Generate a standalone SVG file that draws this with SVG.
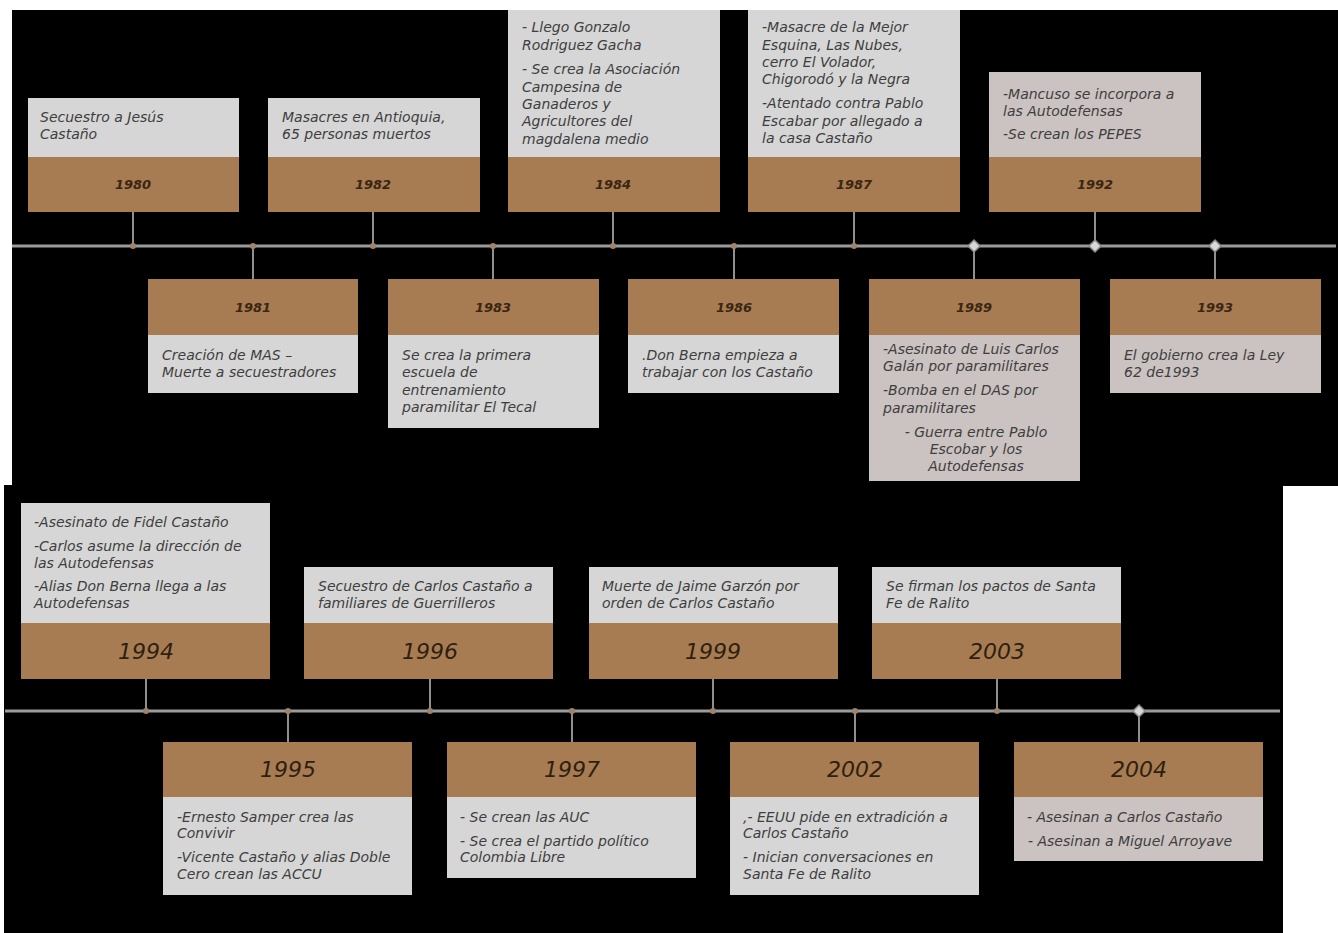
<svg xmlns="http://www.w3.org/2000/svg" width="1338" height="933" viewBox="0 0 1338 933">
<style>
.bg{fill:#000}
.g{fill:#d6d6d6}
.p{fill:#cbc3c2}
.b{fill:#a87c52}
.t{font-family:"DejaVu Sans","Liberation Sans",sans-serif;font-size:14px;font-style:italic;fill:#3e3e3e}
.y1{font-family:"DejaVu Sans","Liberation Sans",sans-serif;font-size:13px;font-style:italic;font-weight:bold;fill:#3a2612;text-anchor:middle}
.y2{font-family:"DejaVu Sans","Liberation Sans",sans-serif;font-size:22px;font-style:italic;fill:#2e1f10;text-anchor:middle}
.ax{stroke:#9b9b9b;stroke-width:3;fill:none}
.cn{stroke:#8f8f8f;stroke-width:2;fill:none}
.dot{fill:#a0836a}
.dm{fill:#d8d8d8;stroke:#8a8a8a;stroke-width:1.5}
.c{text-anchor:middle}
</style>
<rect x="0" y="0" width="1338" height="933" fill="#fff"/>
<rect class="bg" x="12" y="10" width="1326" height="476"/>
<rect class="bg" x="4" y="485" width="1279" height="448"/>

<g id="connectors">
<line class="ax" x1="12" y1="246" x2="1336" y2="246"/>
<line class="cn" x1="133" y1="212" x2="133" y2="246"/>
<line class="cn" x1="373" y1="212" x2="373" y2="246"/>
<line class="cn" x1="613" y1="212" x2="613" y2="246"/>
<line class="cn" x1="854" y1="212" x2="854" y2="246"/>
<line class="cn" x1="1095" y1="212" x2="1095" y2="246"/>
<line class="cn" x1="253" y1="246" x2="253" y2="279"/>
<line class="cn" x1="493" y1="246" x2="493" y2="279"/>
<line class="cn" x1="734" y1="246" x2="734" y2="279"/>
<line class="cn" x1="974" y1="246" x2="974" y2="279"/>
<line class="cn" x1="1215" y1="246" x2="1215" y2="279"/>
<circle class="dot" cx="133" cy="246" r="3"/>
<circle class="dot" cx="253" cy="246" r="3"/>
<circle class="dot" cx="373" cy="246" r="3"/>
<circle class="dot" cx="493" cy="246" r="3"/>
<circle class="dot" cx="613" cy="246" r="3"/>
<circle class="dot" cx="734" cy="246" r="3"/>
<circle class="dot" cx="854" cy="246" r="3"/>
<path class="dm" d="M974 240 L980 246 L974 252 L968 246 Z"/>
<path class="dm" d="M1095 240 L1101 246 L1095 252 L1089 246 Z"/>
<path class="dm" d="M1215 240 L1221 246 L1215 252 L1209 246 Z"/>

<line class="ax" x1="5" y1="711" x2="1280" y2="711"/>
<line class="cn" x1="146" y1="679" x2="146" y2="711"/>
<line class="cn" x1="430" y1="679" x2="430" y2="711"/>
<line class="cn" x1="713" y1="679" x2="713" y2="711"/>
<line class="cn" x1="997" y1="679" x2="997" y2="711"/>
<line class="cn" x1="288" y1="711" x2="288" y2="742"/>
<line class="cn" x1="572" y1="711" x2="572" y2="742"/>
<line class="cn" x1="855" y1="711" x2="855" y2="742"/>
<line class="cn" x1="1139" y1="711" x2="1139" y2="742"/>
<circle class="dot" cx="146" cy="711" r="3"/>
<circle class="dot" cx="288" cy="711" r="3"/>
<circle class="dot" cx="430" cy="711" r="3"/>
<circle class="dot" cx="572" cy="711" r="3"/>
<circle class="dot" cx="713" cy="711" r="3"/>
<circle class="dot" cx="855" cy="711" r="3"/>
<circle class="dot" cx="997" cy="711" r="3"/>
<path class="dm" d="M1139 705 L1145 711 L1139 717 L1133 711 Z"/>
</g>

<g id="n1980">
<rect class="g" x="28" y="98" width="211" height="59"/>
<rect class="b" x="28" y="157" width="211" height="55"/>
<text class="t" x="40" y="122">Secuestro a Jesús</text>
<text class="t" x="40" y="139">Castaño</text>
<text class="y1" x="133" y="189">1980</text>
</g>
<g id="n1982">
<rect class="g" x="268" y="98" width="212" height="59"/>
<rect class="b" x="268" y="157" width="212" height="55"/>
<text class="t" x="282" y="122">Masacres en Antioquia,</text>
<text class="t" x="282" y="139">65 personas muertos</text>
<text class="y1" x="373" y="189">1982</text>
</g>
<g id="n1984">
<rect class="g" x="508" y="10" width="212" height="147"/>
<rect class="b" x="508" y="157" width="212" height="55"/>
<text class="t" x="522" y="32">- Llego Gonzalo</text>
<text class="t" x="522" y="50">Rodriguez Gacha</text>
<text class="t" x="522" y="74">- Se crea la Asociación</text>
<text class="t" x="522" y="92">Campesina de</text>
<text class="t" x="522" y="109">Ganaderos y</text>
<text class="t" x="522" y="126">Agricultores del</text>
<text class="t" x="522" y="144">magdalena medio</text>
<text class="y1" x="613" y="189">1984</text>
</g>
<g id="n1987">
<rect class="g" x="748" y="10" width="212" height="147"/>
<rect class="b" x="748" y="157" width="212" height="55"/>
<text class="t" x="762" y="32">-Masacre de la Mejor</text>
<text class="t" x="762" y="50">Esquina, Las Nubes,</text>
<text class="t" x="762" y="67">cerro El Volador,</text>
<text class="t" x="762" y="84">Chigorodó y la Negra</text>
<text class="t" x="762" y="108">-Atentado contra Pablo</text>
<text class="t" x="762" y="126">Escabar por allegado a</text>
<text class="t" x="762" y="143">la casa Castaño</text>
<text class="y1" x="854" y="189">1987</text>
</g>
<g id="n1992">
<rect class="p" x="989" y="72" width="212" height="85"/>
<rect class="b" x="989" y="157" width="212" height="55"/>
<text class="t" x="1003" y="99">-Mancuso se incorpora a</text>
<text class="t" x="1003" y="116">las Autodefensas</text>
<text class="t" x="1003" y="139">-Se crean los PEPES</text>
<text class="y1" x="1095" y="189">1992</text>
</g>

<g id="n1981">
<rect class="b" x="148" y="279" width="210" height="56"/>
<rect class="g" x="148" y="335" width="210" height="58"/>
<text class="y1" x="253" y="312">1981</text>
<text class="t" x="162" y="360">Creación de MAS –</text>
<text class="t" x="162" y="377">Muerte a secuestradores</text>
</g>
<g id="n1983">
<rect class="b" x="388" y="279" width="211" height="56"/>
<rect class="g" x="388" y="335" width="211" height="93"/>
<text class="y1" x="493" y="312">1983</text>
<text class="t" x="402" y="360">Se crea la primera</text>
<text class="t" x="402" y="377">escuela de</text>
<text class="t" x="402" y="395">entrenamiento</text>
<text class="t" x="402" y="412">paramilitar El Tecal</text>
</g>
<g id="n1986">
<rect class="b" x="628" y="279" width="211" height="56"/>
<rect class="g" x="628" y="335" width="211" height="58"/>
<text class="y1" x="734" y="312">1986</text>
<text class="t" x="642" y="360">.Don Berna empieza a</text>
<text class="t" x="642" y="377">trabajar con los Castaño</text>
</g>
<g id="n1989">
<rect class="b" x="869" y="279" width="211" height="56"/>
<rect class="p" x="869" y="335" width="211" height="146"/>
<text class="y1" x="974" y="312">1989</text>
<text class="t" x="883" y="354">-Asesinato de Luis Carlos</text>
<text class="t" x="883" y="371">Galán por paramilitares</text>
<text class="t" x="883" y="395">-Bomba en el DAS por</text>
<text class="t" x="883" y="413">paramilitares</text>
<text class="t c" x="976" y="437">- Guerra entre Pablo</text>
<text class="t c" x="976" y="454">Escobar y los</text>
<text class="t c" x="976" y="471">Autodefensas</text>
</g>
<g id="n1993">
<rect class="b" x="1110" y="279" width="211" height="56"/>
<rect class="p" x="1110" y="335" width="211" height="58"/>
<text class="y1" x="1215" y="312">1993</text>
<text class="t" x="1124" y="360">El gobierno crea la Ley</text>
<text class="t" x="1124" y="377">62 de1993</text>
</g>

<g id="n1994">
<rect class="g" x="21" y="503" width="249" height="120"/>
<rect class="b" x="21" y="623" width="249" height="56"/>
<text class="t" x="34" y="527">-Asesinato de Fidel Castaño</text>
<text class="t" x="34" y="551">-Carlos asume la dirección de</text>
<text class="t" x="34" y="568">las Autodefensas</text>
<text class="t" x="34" y="591">-Alias Don Berna llega a las</text>
<text class="t" x="34" y="608">Autodefensas</text>
<text class="y2" x="146" y="659">1994</text>
</g>
<g id="n1996">
<rect class="g" x="304" y="567" width="249" height="56"/>
<rect class="b" x="304" y="623" width="249" height="56"/>
<text class="t" x="318" y="591">Secuestro de Carlos Castaño a</text>
<text class="t" x="318" y="608">familiares de Guerrilleros</text>
<text class="y2" x="430" y="659">1996</text>
</g>
<g id="n1999">
<rect class="g" x="589" y="567" width="249" height="56"/>
<rect class="b" x="589" y="623" width="249" height="56"/>
<text class="t" x="602" y="591">Muerte de Jaime Garzón por</text>
<text class="t" x="602" y="608">orden de Carlos Castaño</text>
<text class="y2" x="713" y="659">1999</text>
</g>
<g id="n2003">
<rect class="g" x="872" y="567" width="249" height="56"/>
<rect class="b" x="872" y="623" width="249" height="56"/>
<text class="t" x="886" y="591">Se firman los pactos de Santa</text>
<text class="t" x="886" y="608">Fe de Ralito</text>
<text class="y2" x="997" y="659">2003</text>
</g>

<g id="n1995">
<rect class="b" x="163" y="742" width="249" height="55"/>
<rect class="g" x="163" y="797" width="249" height="98"/>
<text class="y2" x="288" y="777">1995</text>
<text class="t" x="177" y="822">-Ernesto Samper crea las</text>
<text class="t" x="177" y="838">Convivir</text>
<text class="t" x="177" y="862">-Vicente Castaño y alias Doble</text>
<text class="t" x="177" y="879">Cero crean las ACCU</text>
</g>
<g id="n1997">
<rect class="b" x="447" y="742" width="249" height="55"/>
<rect class="g" x="447" y="797" width="249" height="81"/>
<text class="y2" x="572" y="777">1997</text>
<text class="t" x="460" y="822">- Se crean las AUC</text>
<text class="t" x="460" y="846">- Se crea el partido político</text>
<text class="t" x="460" y="862">Colombia Libre</text>
</g>
<g id="n2002">
<rect class="b" x="730" y="742" width="249" height="55"/>
<rect class="g" x="730" y="797" width="249" height="98"/>
<text class="y2" x="855" y="777">2002</text>
<text class="t" x="743" y="822">,- EEUU pide en extradición a</text>
<text class="t" x="743" y="838">Carlos Castaño</text>
<text class="t" x="743" y="862">- Inician conversaciones en</text>
<text class="t" x="743" y="879">Santa Fe de Ralito</text>
</g>
<g id="n2004">
<rect class="b" x="1014" y="742" width="249" height="55"/>
<rect class="p" x="1014" y="797" width="249" height="64"/>
<text class="y2" x="1139" y="777">2004</text>
<text class="t" x="1027" y="822">- Asesinan a Carlos Castaño</text>
<text class="t" x="1028" y="846">-  Asesinan a Miguel Arroyave</text>
</g>
</svg>
